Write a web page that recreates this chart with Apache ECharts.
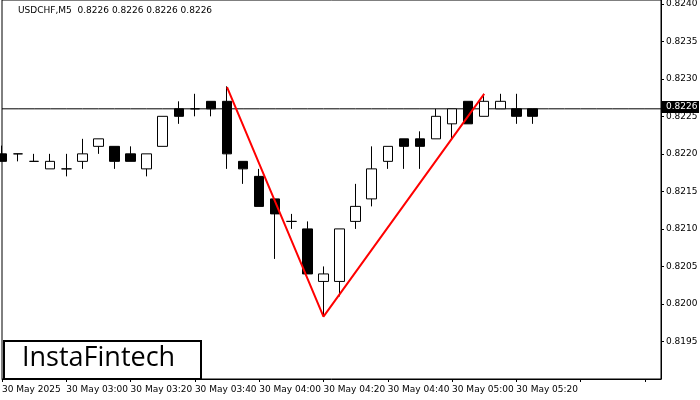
<!DOCTYPE html>
<html><head><meta charset="utf-8">
<script src="https://cdn.jsdelivr.net/npm/echarts@6/dist/echarts.min.js"></script>
<style>html,body{margin:0;padding:0;background:#fff}#c{width:700px;height:400px}</style>
</head><body><div id="c"></div>
<script>
const times = [];
for (let i = 0; i < 42; i++) { const m = 160 + 5 * i; times.push(String(Math.floor(m / 60)).padStart(2, '0') + ':' + String(m % 60).padStart(2, '0')); }
const opens  = [.8220,.8220,.8219,.8218,.8218,.8219,.8221,.8221,.8220,.8218,.8221,.8226,.8226,.8227,.8227,.8219,.8217,.8214,.8211,.8210,.8203,.8203,.8211,.8214,.8219,.8222,.8222,.8222,.8224,.8227,.8225,.8226,.8226,.8226];
const closes = [.8219,.8220,.8219,.8219,.8218,.8220,.8222,.8219,.8219,.8220,.8225,.8225,.8226,.8226,.8220,.8218,.8213,.8212,.8211,.8204,.8204,.8210,.8213,.8218,.8221,.8221,.8221,.8225,.8226,.8224,.8227,.8227,.8225,.8225];
const lows   = [.8219,.8219,.8219,.8218,.8217,.8218,.8220,.8218,.8219,.8217,.8221,.8224,.8225,.8225,.8218,.8216,.8213,.8206,.8210,.8204,.81983,.8201,.8210,.8213,.8218,.8218,.8218,.8222,.8222,.8224,.8225,.8226,.8224,.8224];
const highs  = [.82211,.8220,.8220,.8220,.8220,.8222,.8222,.8221,.8221,.8220,.8225,.8227,.8228,.8227,.8229,.8219,.8218,.8214,.8212,.8211,.8205,.8210,.8216,.8221,.8221,.8222,.8223,.8226,.8226,.8227,.8228,.8228,.8228,.8226];
const patternIdx = [14, 20, 30];
const patternVals = [.82289, .81983, .8228];
const currentPrice = 0.8226;
const title = 'USDCHF,M5  0.8226 0.8226 0.8226 0.8226';

const candles = opens.map((o, i) => [o, closes[i], lows[i], highs[i]]);
const redLine = times.map(() => null);
patternIdx.forEach((k, j) => redLine[k] = patternVals[j]);
const priceLine = times.map(() => currentPrice);

const chart = echarts.init(document.getElementById('c'));
chart.setOption({
  animation: false,
  grid: { left: 2, right: 39, top: 0, bottom: 21, outerBoundsMode: 'none', containLabel: false, show: true, borderColor: '#000', borderWidth: 1 },
  xAxis: { type: 'category', data: times, boundaryGap: false,
    axisLine: { lineStyle: { color: '#000' } },
    axisTick: { interval: 3, length: 3, lineStyle: { color: '#000' } },
    axisLabel: { interval: 3, align: 'left', margin: 6, fontSize: 9, color: '#000', fontFamily: 'DejaVu Sans',
      formatter: (v, i) => i === 0 ? '30 May 2025' : (i <= 32 ? '30 May ' + v : '') },
    splitLine: { show: false } },
  yAxis: { type: 'value', position: 'right', min: 0.8190, max: 0.82405, interval: 0.0005,
    axisLine: { show: true, lineStyle: { color: '#000' } },
    axisTick: { show: true, length: 3, lineStyle: { color: '#000' } },
    axisLabel: { showMinLabel: false, showMaxLabel: false, fontSize: 9, margin: 5, color: '#000', fontFamily: 'DejaVu Sans',
      formatter: v => v.toFixed(4) },
    splitLine: { show: false } },
  series: [
    { type: 'line', data: priceLine, symbol: 'none', lineStyle: { color: '#000', width: 1 }, z: 1 },
    { type: 'candlestick', data: candles, barWidth: 10, z: 3,
      itemStyle: { color: '#fff', color0: '#000', borderColor: '#000', borderColor0: '#000', borderWidth: 1 } },
    { type: 'line', data: redLine, connectNulls: true, symbol: 'none',
      lineStyle: { color: '#ff0000', width: 2 }, z: 5 }
  ],
  graphic: [
    { type: 'text', left: 18, top: 6, style: { text: title, fontSize: 9, fill: '#000', fontFamily: 'DejaVu Sans' } },
    { type: 'group', left: 662, top: 101, children: [
      { type: 'rect', shape: { x: 0, y: 0, width: 37, height: 12 }, style: { fill: '#000' } },
      { type: 'text', x: 4, y: 1, style: { text: '0.8226', fontSize: 9, fill: '#fff', fontFamily: 'DejaVu Sans' } } ] },
    { type: 'group', left: 3, top: 340, children: [
      { type: 'rect', shape: { x: 0, y: 0, width: 197, height: 38 }, style: { fill: '#fff', stroke: '#000', lineWidth: 2 } },
      { type: 'text', x: 18, y: 4, style: { text: 'InstaFintech', fontSize: 27, fill: '#000', fontFamily: 'Open Sans' } } ] }
  ]
});
</script></body></html>
